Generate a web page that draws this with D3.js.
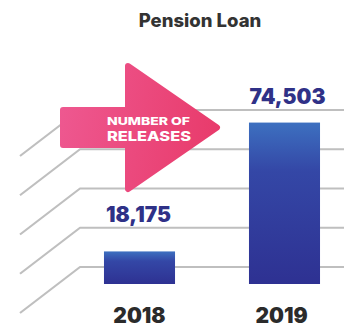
<!DOCTYPE html>
<html>
<head>
<meta charset="utf-8">
<script src="https://cdn.jsdelivr.net/npm/d3@7"></script>
<style>
  html, body { margin: 0; padding: 0; background: #ffffff; }
  svg { display: block; }
  text { font-family: Inter, "Open Sans", "Liberation Sans", sans-serif; }
</style>
</head>
<body>
<svg id="chart" width="344" height="329"></svg>
<script>
// Pension loan releases per year
const years = ["2018", "2019"];
const releases = [18175, 74503];
const chartTitle = "Pension Loan";
const arrowLines = ["NUMBER OF", "RELEASES"];
const gridRows = [0, 1, 2, 3, 4];

const width = 344, height = 329;
const svg = d3.select("#chart");

const defs = svg.append("defs");

const arrowGrad = defs.append("linearGradient")
  .attr("id", "arrowFill")
  .attr("gradientUnits", "userSpaceOnUse")
  .attr("x1", 60).attr("y1", 110).attr("x2", 222).attr("y2", 140);
arrowGrad.append("stop").attr("offset", 0).attr("stop-color", "#ee5890");
arrowGrad.append("stop").attr("offset", 1).attr("stop-color", "#e83a6a");

const barGrad = defs.append("linearGradient")
  .attr("id", "barFill")
  .attr("x1", 0).attr("y1", 0).attr("x2", 0).attr("y2", 1);
barGrad.append("stop").attr("offset", 0).attr("stop-color", "#3d70c0");
barGrad.append("stop").attr("offset", 0.3).attr("stop-color", "#3447a6");
barGrad.append("stop").attr("offset", 1).attr("stop-color", "#2e3192");

// Scales
const x = d3.scaleBand()
  .domain(years)
  .range([67, 357])
  .paddingInner(0.51)
  .paddingOuter(0.255);

const y = d3.scaleLinear()
  .domain([0, 80000])
  .range([293, 110]);

const floorY = 284;

// Perspective floor lines
const gridY = d3.scaleLinear().domain([0, 4]).range([267, 110]);
const bendX = 80, leftX = 20, drop = 46;

svg.append("g")
  .selectAll("path")
  .data(gridRows)
  .join("path")
  .attr("d", d => {
    const gy = gridY(d);
    return d3.line()([[leftX, gy + drop], [bendX, gy], [width, gy]]);
  })
  .attr("fill", "none")
  .attr("stroke", "#bfbfbf")
  .attr("stroke-width", 2.2)
  .attr("stroke-linejoin", "round");

// Title
svg.append("text")
  .attr("x", 200)
  .attr("y", 27)
  .attr("text-anchor", "middle")
  .attr("font-size", 18.5)
  .attr("font-weight", 800)
  .attr("fill", "#333333")
  .text(chartTitle);

// Bars
svg.append("g")
  .selectAll("rect")
  .data(years)
  .join("rect")
  .attr("x", d => x(d))
  .attr("width", x.bandwidth())
  .attr("y", (d, i) => y(releases[i]))
  .attr("height", (d, i) => floorY - y(releases[i]))
  .attr("fill", "url(#barFill)");

// Value labels sit just above the first floor line over each bar
const rowYs = gridRows.map(gridY);
function labelBaseline(v) {
  const top = y(v);
  const above = rowYs.filter(r => r < top - 6);
  const line = above.length ? d3.max(above) : top;
  return line - 6;
}

svg.append("g")
  .selectAll("text")
  .data(years)
  .join("text")
  .attr("x", (d, i) => x(d) + x.bandwidth() / 2 + (i ? 3 : -1))
  .attr("y", (d, i) => labelBaseline(releases[i]))
  .attr("text-anchor", "middle")
  .attr("font-size", 21)
  .attr("font-weight", 900)
  .attr("fill", "#2f3187")
  .text((d, i) => d3.format(",")(releases[i]));

// Year labels
svg.append("g")
  .selectAll("text")
  .data(years)
  .join("text")
  .attr("x", (d, i) => x(d) + x.bandwidth() / 2 + (i ? -3 : 0))
  .attr("y", 323)
  .attr("text-anchor", "middle")
  .attr("font-size", 21)
  .attr("font-weight", 900)
  .attr("fill", "#2b2b2b")
  .text(d => d);

// Callout arrow
const arrow = svg.append("g");
arrow.append("path")
  .attr("d", d3.line()([
    [63, 110], [128, 110], [128, 66], [217, 127.5],
    [128, 189], [128, 145], [63, 145]
  ]) + "Z")
  .attr("fill", "url(#arrowFill)")
  .attr("stroke", "url(#arrowFill)")
  .attr("stroke-width", 6)
  .attr("stroke-linejoin", "round");

// Two-line caption inside the arrow
arrow.append("text")
  .attr("x", 107)
  .attr("y", 125)
  .attr("font-size", 11)
  .attr("font-weight", 800)
  .attr("fill", "#ffffff")
  .attr("textLength", 83)
  .attr("lengthAdjust", "spacingAndGlyphs")
  .text(arrowLines[0]);

arrow.append("text")
  .attr("x", 107)
  .attr("y", 141)
  .attr("font-size", 13.5)
  .attr("font-weight", 800)
  .attr("fill", "#ffffff")
  .attr("textLength", 84)
  .attr("lengthAdjust", "spacingAndGlyphs")
  .text(arrowLines[1]);
</script>
</body>
</html>
